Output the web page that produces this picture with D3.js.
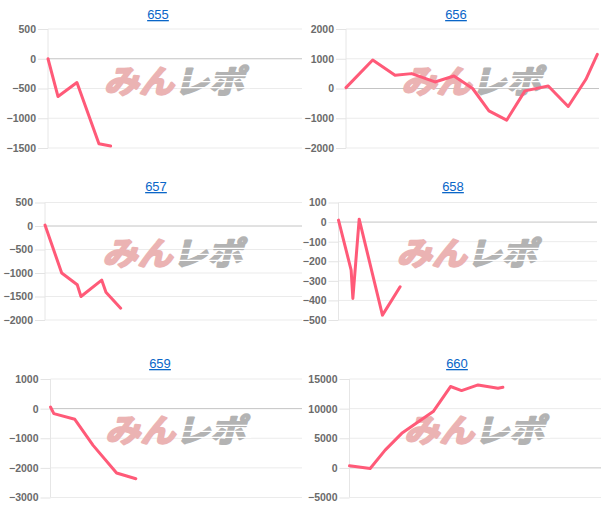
<!DOCTYPE html>
<html>
<head>
<meta charset="utf-8">
<script src="https://cdn.jsdelivr.net/npm/d3@7"></script>
<style>
    body { margin: 0; background: #fff; }
</style>
</head>
<body>
<svg id="chart" width="610" height="518"></svg>
<script>
// machine numbers shown above each chart
var machines = ["655", "656", "657", "658", "659", "660"];

// games played (x) and coin difference (y) per machine
var games655 = [0, 355, 1025, 1805, 2220];
var diff655 = [0, -635, -400, -1430, -1465];

var games656 = [0, 950, 1745, 2335, 3165, 3840, 4505, 5085, 5715, 6365, 7195, 7905, 8535, 8940];
var diff656 = [30, 960, 445, 500, 220, 420, 0, -750, -1065, -80, 85, -605, 310, 1150];

var games657 = [0, 585, 1130, 1260, 1985, 2135, 2650];
var diff657 = [20, -1000, -1250, -1500, -1150, -1410, -1750];

var games658 = [0, 440, 500, 720, 1530, 2145];
var diff658 = [10, -245, -390, 15, -475, -330];

var games659 = [0, 120, 870, 1525, 2365, 3055];
var diff659 = [55, -170, -360, -1240, -2175, -2365];

var games660 = [0, 740, 1275, 1870, 2995, 3615, 4010, 4600, 5315, 5490];
var diff660 = [340, -110, 3000, 5830, 9500, 13730, 13050, 14000, 13430, 13600];

// y axis tick labels
var ticks655 = [-1500, -1000, -500, 0, 500];
var ticks656 = [-2000, -1000, 0, 1000, 2000];
var ticks657 = [-2000, -1500, -1000, -500, 0, 500];
var ticks658 = [-500, -400, -300, -200, -100, 0, 100];
var ticks659 = [-3000, -2000, -1000, 0, 1000];
var ticks660 = [-5000, 0, 5000, 10000, 15000];

var maxGames = 9000;

var series = [
    { x: games655, y: diff655, ticks: ticks655 },
    { x: games656, y: diff656, ticks: ticks656 },
    { x: games657, y: diff657, ticks: ticks657 },
    { x: games658, y: diff658, ticks: ticks658 },
    { x: games659, y: diff659, ticks: ticks659 },
    { x: games660, y: diff660, ticks: ticks660 }
];

// plot boxes (left, right, top, bottom) and title centre for each chart
var boxes = [
    { l: 48, r: 302, t: 29, b: 148, tx: 158, ty: 19 },
    { l: 346, r: 599, t: 29, b: 148, tx: 456, ty: 19 },
    { l: 45, r: 302, t: 202.5, b: 320, tx: 156, ty: 191 },
    { l: 338.5, r: 597, t: 202.5, b: 320, tx: 453, ty: 191 },
    { l: 50.5, r: 302, t: 379, b: 497.5, tx: 160, ty: 368 },
    { l: 349.5, r: 601, t: 379, b: 497.5, tx: 457, ty: 368 }
];

var svg = d3.select("#chart");

for (var i = 0; i < series.length; i++) {
    var s = series[i];
    var box = boxes[i];
    var w = box.r - box.l;
    var h = box.b - box.t;

    var x = d3.scaleLinear().domain([0, maxGames]).range([0, w]);
    var y = d3.scaleLinear().domain(d3.extent(s.ticks)).range([h, 0]);

    // title link
    svg.append("text")
        .attr("x", box.tx)
        .attr("y", box.ty)
        .attr("text-anchor", "middle")
        .style("font-family", "'Liberation Sans', Arial, sans-serif")
        .style("font-size", "13px")
        .style("fill", "#0a66c8")
        .style("text-decoration", "underline")
        .text(machines[i]);

    var g = svg.append("g")
        .attr("transform", "translate(" + box.l + "," + box.t + ")");

    // grid lines
    g.selectAll(".grid")
        .data(s.ticks)
        .enter().append("line")
        .attr("x1", 0)
        .attr("x2", w)
        .attr("y1", function (d) { return y(d); })
        .attr("y2", function (d) { return y(d); })
        .style("stroke", function (d) { return d === 0 ? "#c4c4c4" : "#ebebeb"; })
        .style("stroke-width", 1);

    g.append("line")
        .attr("x1", 0).attr("x2", 0)
        .attr("y1", 0).attr("y2", h)
        .style("stroke", "#e6e6e6");

    // y axis: tick marks and labels
    var axis = g.append("g")
        .call(d3.axisLeft(y).tickValues(s.ticks).tickFormat(d3.format("d")).tickSize(10).tickPadding(2));
    axis.select(".domain").remove();
    axis.selectAll(".tick line").style("stroke", "#e3e3e3");
    axis.selectAll(".tick text")
        .style("font-family", "'Liberation Sans', Arial, sans-serif")
        .style("font-size", "10.5px")
        .style("font-weight", "bold")
        .style("fill", "#6b6b6b");

    // watermark
    var my = h * 0.535;
    var mark = g.append("text")
        .attr("x", w / 2 - 1)
        .attr("y", my)
        .attr("text-anchor", "middle")
        .attr("textLength", 140)
        .attr("lengthAdjust", "spacingAndGlyphs")
        .attr("transform", "skewX(-14) translate(" + (my * Math.tan(14 * Math.PI / 180)) + ",0)")
        .style("font-family", "'Noto Sans CJK JP', sans-serif")
        .style("font-size", "32px")
        .style("font-weight", "bold")
        .style("stroke-width", 2.2)
        .style("stroke-linejoin", "round");
    mark.append("tspan").style("fill", "#ebb3b3").style("stroke", "#ebb3b3").text("みん");
    mark.append("tspan").style("fill", "#b3b3b3").style("stroke", "#b3b3b3").text("レポ");

    // speed-line gaps through the right half of the watermark
    [-17, -11, -5].forEach(function (dy) {
        g.append("line")
            .attr("x1", w / 2 + 2).attr("x2", w / 2 + 75)
            .attr("y1", my + dy).attr("y2", my + dy)
            .style("stroke", "#fff")
            .style("stroke-width", 1.2);
    });

    // difference line
    var pts = s.x.map(function (d, j) { return [d, s.y[j]]; });
    g.append("path")
        .datum(pts)
        .attr("d", d3.line()
            .x(function (d) { return x(d[0]); })
            .y(function (d) { return y(d[1]); }))
        .style("fill", "none")
        .style("stroke", "#ff5a78")
        .style("stroke-width", 3)
        .style("stroke-linejoin", "round")
        .style("stroke-linecap", "round");
}
</script>
</body>
</html>
